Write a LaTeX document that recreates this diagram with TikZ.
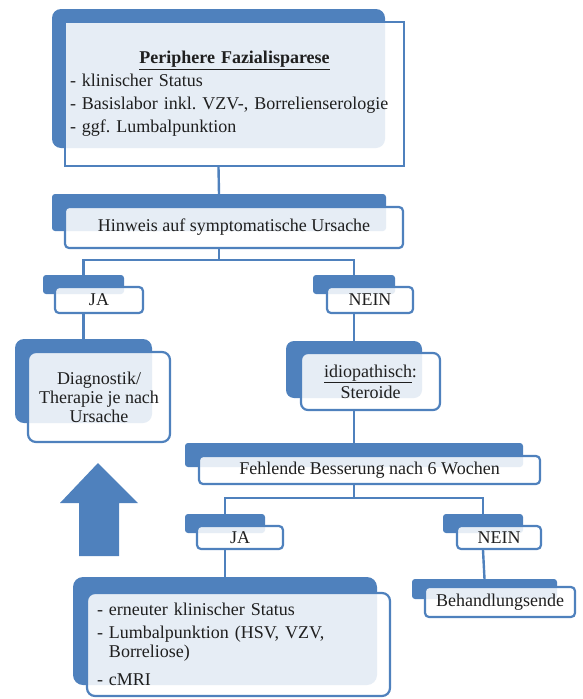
\documentclass[tikz,border=0pt]{standalone}
\usepackage{fontspec}
\setmainfont{Liberation Serif}
\frenchspacing
\usetikzlibrary{positioning}
\definecolor{tab}{HTML}{4F81BD}
\definecolor{ink}{HTML}{1F1F1F}

\begin{document}
\begin{tikzpicture}[x=1pt,y=-1pt,
    back/.style={fill=tab,inner sep=0pt,rounded corners=3pt},
    card/.style={draw=tab,line width=2.2pt,fill=white,fill opacity=0.86,text opacity=1,
      text=ink,inner sep=0pt,rounded corners=4pt,align=center,
      font={\fontsize{18}{19}\selectfont}},
    link/.style={draw=tab,line width=2.4pt}]
  \useasboundingbox (0,0) rectangle (582,699);

  % Periphere Fazialisparese
  \node[back,rounded corners=9pt,minimum width=333,minimum height=139] (periph-tab) at (218.5,78.5) {};
  \node[card,sharp corners,minimum width=339,minimum height=144,text width=329,align=left,
    font={\fontsize{18}{23}\selectfont}] (periph) at (234.5,94)
    {\makebox[329pt]{\textbf{\underline{Periphere Fazialisparese}}}\\
     - klinischer Status\\
     - Basislabor inkl. VZV-, Borrelienserologie\\
     - ggf. Lumbalpunktion};

  % Hinweis
  \node[back,minimum width=334,minimum height=37] (hinweis-tab) at (219,212.5) {};
  \node[card,minimum width=338,minimum height=41] (hinweis) at (234,227.5) {Hinweis auf symptomatische Ursache};

  % JA / NEIN
  \node[back,minimum width=81,minimum height=19] (ja-tab) at (83.5,284.5) {};
  \node[card,minimum width=88,minimum height=26] (ja) at (99,300) {JA};
  \node[back,minimum width=82,minimum height=19] (nein-tab) at (354,284.5) {};
  \node[card,minimum width=86,minimum height=26] (nein) at (370,300) {NEIN};

  % Diagnostik
  \node[back,rounded corners=9pt,minimum width=137,minimum height=84] (diag-tab) at (83.5,381) {};
  \node[card,rounded corners=8pt,minimum width=142,minimum height=90] (diag) at (99,397)
    {Diagnostik/\\Therapie je nach\\Ursache};

  % idiopathisch
  \node[back,rounded corners=8pt,minimum width=136,minimum height=57] (idio-tab) at (354,369.5) {};
  \node[card,rounded corners=7pt,minimum width=139,minimum height=57,
    font={\fontsize{18}{21}\selectfont}] (idio) at (370.5,381.5)
    {\underline{idiopathisch}:\\Steroide};

  % Fehlende Besserung
  \node[back,minimum width=338,minimum height=24] (fehl-tab) at (354,455) {};
  \node[card,minimum width=341,minimum height=28] (fehl) at (369.5,470) {Fehlende Besserung nach 6 Wochen};

  % JA / NEIN
  \node[back,minimum width=80,minimum height=19] (ja2-tab) at (225,523.5) {};
  \node[card,minimum width=86,minimum height=23] (ja2) at (240,537.5) {JA};
  \node[back,minimum width=80,minimum height=19] (nein2-tab) at (483,523.5) {};
  \node[card,minimum width=84,minimum height=23] (nein2) at (499,537.5) {NEIN};

  % Behandlungsende
  \node[back,minimum width=145,minimum height=20] (ende-tab) at (484.5,589) {};
  \node[card,minimum width=150,minimum height=30] (ende) at (500,602) {Behandlungsende};

  % Kontrolle
  \node[back,rounded corners=10pt,minimum width=304,minimum height=108] (kontroll-tab) at (225,631) {};
  \node[card,rounded corners=8pt,minimum width=303,minimum height=103,text width=283,align=left] (kontroll) at (238.5,644.5)
    {- erneuter klinischer Status\\[4pt]
     - Lumbalpunktion (HSV, VZV,\\
     \phantom{- }Borreliose)\\[9pt]
     - cMRI};

  % Pfeil
  \fill[tab] (98,463) -- (138,503) -- (119,503) -- (119,556) -- (79,556) -- (79,503) -- (60,503) -- cycle;

  % Verbindungen
  \coordinate (fork1) at (219,260);
  \coordinate (fork2) at (354,498);
  \draw[link] (periph-tab.south |- periph.south) -- (hinweis-tab.north);
  \draw[link] (hinweis-tab.south |- hinweis.south) -- (fork1);
  \draw[link] (ja-tab.north) |- (fork1) -| (nein-tab.north);
  \draw[link] (ja-tab.south |- ja.south) -- (diag-tab.north);
  \draw[link] (nein-tab.south |- nein.south) -- (idio-tab.north);
  \draw[link] (idio-tab.south |- idio.south) -- (fehl-tab.north);
  \draw[link] (fehl-tab.south |- fehl.south) -- (fork2);
  \draw[link] (ja2-tab.north) |- (fork2) -| (nein2-tab.north);
  \draw[link] (ja2-tab.south |- ja2.south) -- (kontroll-tab.north);
  \draw[link] (nein2-tab.south |- nein2.south) -- (ende-tab.north);
\end{tikzpicture}
\end{document}
